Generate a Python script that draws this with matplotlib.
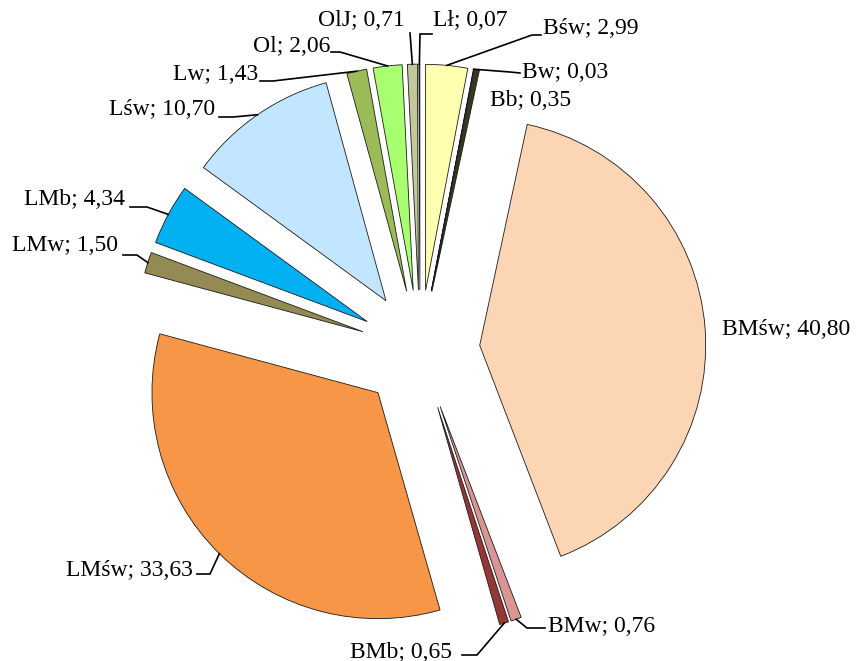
import numpy as np
from matplotlib import pyplot as plt

# udzialy (w %), zgodnie z ruchem wskazowek zegara od godziny 12
kategorie = ['Bśw', 'Bw', 'Bb', 'BMśw', 'BMw', 'BMb', 'LMśw', 'LMw', 'LMb',
             'Lśw', 'Lw', 'Ol', 'OlJ', 'Lł']
wartosci = [2.99, 0.03, 0.35, 40.80, 0.76, 0.65, 33.63, 1.50, 4.34,
            10.70, 1.43, 2.06, 0.71, 0.07]
kolory = ['#FFFFB0', '#333320', '#38381F', '#FCD5B4', '#D99694', '#953735',
          '#F79646', '#948A54', '#00B0F0', '#C2E6FF', '#9BBB59', '#A8FF70',
          '#C4C79A', '#2B2B1B']

# uklad: srodek kola i promien w pikselach rysunku
CX, CY, R = 420, 350, 226
EXPLODE = 0.265

def px(x, y):
    return ((x - CX) / R, (CY - y) / R)

# polozenie etykiet (piksele): x krawedzi tekstu, y srodka, wyrownanie,
# punkt zalamania i koniec linii odniesienia (None = bez linii)
etykiety = {
    'Bśw':  (543, 28, 'left', (532, 35), (541, 35)),
    'Bw':   (522, 73, 'left', (510, 72), (520, 73)),
    'Bb':   (490, 100, 'left', None, None),
    'BMśw': (722, 330, 'left', None, None),
    'BMw':  (548, 626, 'left', (527, 628), (545, 628)),
    'BMb':  (452, 652, 'right', (477, 655), (462, 655)),
    'LMśw': (193, 570, 'right', (210, 574), (197, 574)),
    'LMw':  (118, 246, 'right', (137, 255), (123, 255)),
    'LMb':  (125, 200, 'right', (147, 207), (130, 207)),
    'Lśw':  (215, 110, 'right', (233, 117), (219, 117)),
    'Lw':   (258, 75, 'right', (273, 81), (260, 81)),
    'Ol':   (330, 46, 'right', (340, 52), (331, 52)),
    'OlJ':  (405, 20, 'right', (410, 33), (410, 33)),
    'Lł':   (433, 20, 'left', (420, 34), (432, 34)),
}

plt.rcParams['font.family'] = ['Liberation Serif', 'DejaVu Serif']

fig = plt.figure(figsize=(8.56, 6.61), dpi=100)
ax = fig.add_axes([0, 0, 1, 1])
wedges, _ = ax.pie(wartosci, colors=kolory, startangle=90, counterclock=False,
                   explode=[EXPLODE] * len(wartosci), radius=1,
                   wedgeprops=dict(edgecolor='#1a1a1a', linewidth=0.6))
ax.set_aspect('auto')
ax.set_xlim(-CX / R, (856 - CX) / R)
ax.set_ylim(-(661 - CY) / R, CY / R)
ax.axis('off')

for w, k, v in zip(wedges, kategorie, wartosci):
    tx, ty, ha, elbow, end = etykiety[k]
    x, y = px(tx, ty)
    tekst = f'{k}; {v:.2f}'.replace('.', ',')
    ax.text(x, y, tekst, ha=ha, va='center', fontsize=17, color='black')
    if elbow is None:
        continue
    kat = np.deg2rad((w.theta1 + w.theta2) / 2)
    cx, cy = w.center
    p0 = (cx + np.cos(kat), cy + np.sin(kat))
    p1 = px(*elbow)
    p2 = px(*end)
    ax.plot([p0[0], p1[0], p2[0]], [p0[1], p1[1], p2[1]],
            color='black', linewidth=1.2, solid_joinstyle='miter')

fig.savefig('out.png', dpi=100)
